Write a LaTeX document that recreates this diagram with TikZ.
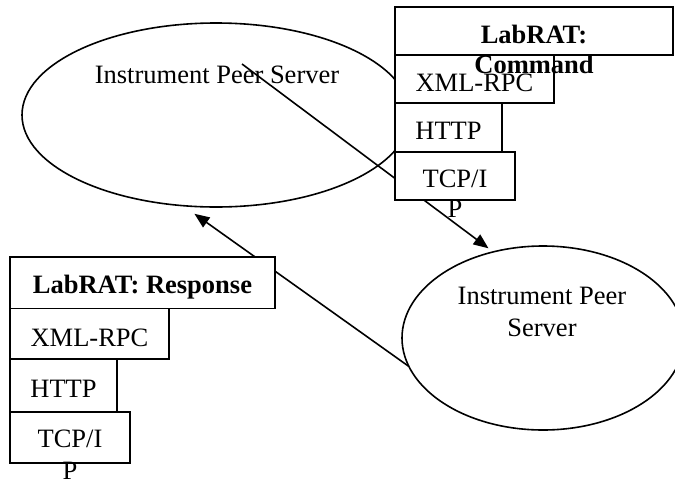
\documentclass[tikz,border=0pt]{standalone}
\usepackage{fontspec}
\setmainfont{Liberation Serif}
\usetikzlibrary{shapes.geometric,arrows.meta}
\begin{document}
\begin{tikzpicture}[x=1pt,y=-1pt,
  font=\fontsize{26.5}{31}\selectfont,
  every node/.style={inner sep=0pt, outer sep=0pt},
  peer/.style={ellipse, draw, line width=1.6pt},
  layer/.style={rectangle, draw, fill=white, line width=1.6pt},
  txt/.style={anchor=base, align=center},
  link/.style={line width=1.6pt, -{Triangle[length=15pt,width=12pt]}}
]
\useasboundingbox (0,0) rectangle (675,480);

% the two peer servers (text anchored at the baseline of its last line)
\node[peer, minimum width=388pt, minimum height=184pt] (peerA) at (216,115) {};
\node[peer, minimum width=282pt, minimum height=184pt] (peerB) at (543,338) {};
\node[txt] (peerAtxt) at (217,83) {Instrument Peer Server};
\node[txt, font=\fontsize{26.5}{32}\selectfont] (peerBtxt) at (542,336) {Instrument Peer\\Server};

% command and response messages
\coordinate (cmdStart) at (242,64);
\draw[link, shorten >=6pt] (cmdStart) -- (peerB.120);
\draw[link, shorten >=14pt] (peerB.192) -- (peerA.250);

% protocol stack of the command
\node[layer, minimum width=278pt, minimum height=48pt] (cmdHead) at (534,31) {};
\node[layer, minimum width=159pt, minimum height=48pt] (cmdXml) at (474.5,79) {};
\node[layer, minimum width=107pt, minimum height=49pt] (cmdHttp) at (448.5,127.5) {};
\node[layer, minimum width=120pt, minimum height=48pt] (cmdTcp) at (455,176) {};

% protocol stack of the response
\node[layer, minimum width=265pt, minimum height=51.6pt] (rspHead) at (142.5,282.5) {};
\node[layer, minimum width=159pt, minimum height=50.7pt] (rspXml) at (89.5,333.7) {};
\node[layer, minimum width=107pt, minimum height=52.7pt] (rspHttp) at (63.5,385.4) {};
\node[layer, minimum width=120pt, minimum height=51pt] (rspTcp) at (70,437.2) {};

% layer texts
\node[txt, font=\fontsize{26.5}{30}\selectfont\bfseries] (cmdHeadTxt) at (534,73) {LabRAT:\\Command};
\node[txt] (cmdXmlTxt) at (474.5,91) {XML-RPC};
\node[txt] (cmdHttpTxt) at (448.5,139) {HTTP};
\node[txt, font=\fontsize{26.5}{30}\selectfont] (cmdTcpTxt) at (455,217) {TCP/I\\P};

\node[txt, font=\fontsize{26.5}{31}\selectfont\bfseries] (rspHeadTxt) at (142.5,293) {LabRAT: Response};
\node[txt] (rspXmlTxt) at (89.5,346) {XML-RPC};
\node[txt] (rspHttpTxt) at (63.5,397) {HTTP};
\node[txt, font=\fontsize{26.5}{32}\selectfont] (rspTcpTxt) at (70,479) {TCP/I\\P};
\end{tikzpicture}
\end{document}
